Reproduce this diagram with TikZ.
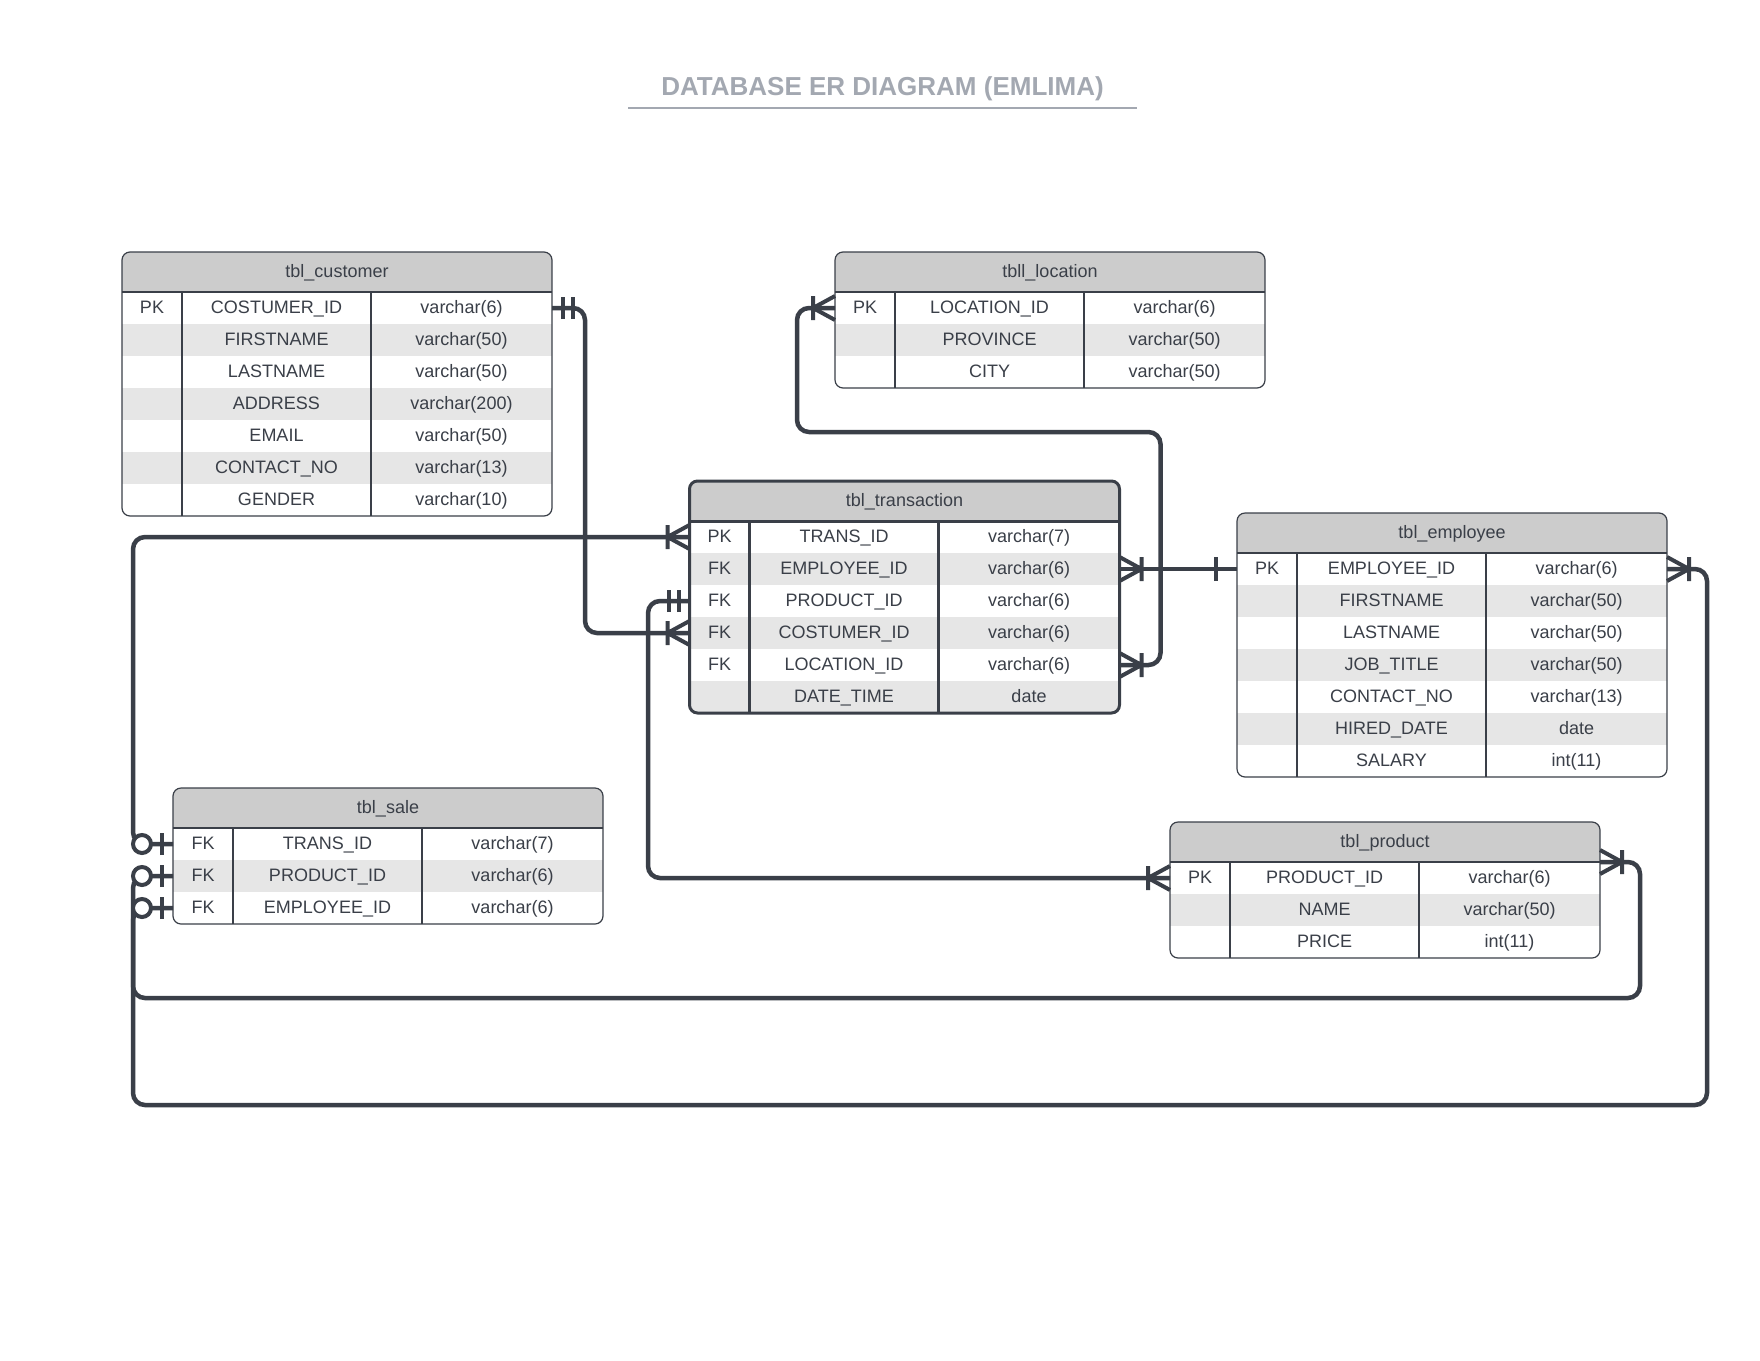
\documentclass[tikz,border=0pt]{standalone}
\usepackage{fontspec}
\setmainfont{Liberation Sans}

\definecolor{ink}{HTML}{3A3F48}
\definecolor{headgray}{HTML}{CCCCCC}
\definecolor{rowgray}{HTML}{E6E6E6}
\definecolor{titlegray}{HTML}{A3A8B1}

\tikzset{
  celltext/.style={font=\fontsize{9}{11}\selectfont, text=ink, inner sep=0pt,
    text height=6.5pt, text depth=1.5pt},
  rowbox/.style={minimum width=215pt, minimum height=16pt, inner sep=0pt, outer sep=0pt},
  tblline/.style={draw=ink, line width=0.6pt},
  tblbold/.style={draw=ink, line width=1.5pt},
  rel/.style={draw=ink, line width=2.25pt, rounded corners=6pt},
  relmark/.style={draw=ink, line width=2pt},
  crowmany/.pic={\draw[relmark] (0,12) -- (22,0) -- (0,-12) (22,12) -- (22,-12);},
  onlyone/.pic={\draw[relmark] (11,11) -- (11,-11) (21,11) -- (21,-11);},
  justone/.pic={\draw[relmark] (21,12) -- (21,-12);},
  zeroone/.pic={\draw[relmark] (11,11) -- (11,-11);
    \draw[relmark, fill=white] (31,0) circle[radius=4.5pt];},
}

% table: [border style]{name}{left}{top}{title}{rows}{key/field/type,...}
\newcommand{\ertable}[7][tblline]{%
  \begin{scope}
    \clip[rounded corners=4pt] (#3,#4) rectangle ++(430,40+32*#6);
    \fill[headgray] (#3,#4) rectangle ++(430,40);
    \foreach[count=\i] \fkey/\fname/\ftype in {#7}{
      \ifodd\i\def\rowfill{white}\else\def\rowfill{rowgray}\fi
      \node[rowbox, fill=\rowfill] (#2-\i) at (#3+215,#4+24+32*\i) {};
      \node[celltext] (#2-\i-key) at (#3+30,#4+24+32*\i) {\fkey};
      \node[celltext] (#2-\i-name) at (#3+154.5,#4+24+32*\i) {\fname};
      \node[celltext] (#2-\i-type) at (#3+339.5,#4+24+32*\i) {\ftype};
    }
  \end{scope}
  \node[celltext] (#2) at (#3+215,#4+20) {#5};
  \draw[#1] (#3,#4+40) -- ++(430,0)
    (#3+60,#4+40) -- ++(0,32*#6) (#3+249,#4+40) -- ++(0,32*#6);
  \draw[#1, rounded corners=4pt] (#3,#4) rectangle ++(430,40+32*#6);
}

\begin{document}
\begin{tikzpicture}[x=0.5pt, y=-0.5pt]
  \useasboundingbox (0,0) rectangle (1760,1360);

  % title
  \node[font=\bfseries\fontsize{13}{15}\selectfont, text=titlegray, inner sep=0pt]
    (title) at (882.5,89) {DATABASE ER DIAGRAM (EMLIMA)};
  \draw[titlegray, line width=1pt] (628,108) -- (1137,108);

  % tables
  \ertable{cust}{122}{252}{tbl\_customer}{7}{PK/COSTUMER\_ID/varchar(6),
    /FIRSTNAME/varchar(50), /LASTNAME/varchar(50), /ADDRESS/varchar(200),
    /EMAIL/varchar(50), /CONTACT\_NO/varchar(13), /GENDER/varchar(10)}
  \ertable{loc}{835}{252}{tbll\_location}{3}{PK/LOCATION\_ID/varchar(6),
    /PROVINCE/varchar(50), /CITY/varchar(50)}
  \ertable[tblbold]{trans}{689.5}{481}{tbl\_transaction}{6}{PK/TRANS\_ID/varchar(7),
    FK/EMPLOYEE\_ID/varchar(6), FK/PRODUCT\_ID/varchar(6), FK/COSTUMER\_ID/varchar(6),
    FK/LOCATION\_ID/varchar(6), /DATE\_TIME/date}
  \ertable{emp}{1237}{513}{tbl\_employee}{7}{PK/EMPLOYEE\_ID/varchar(6),
    /FIRSTNAME/varchar(50), /LASTNAME/varchar(50), /JOB\_TITLE/varchar(50),
    /CONTACT\_NO/varchar(13), /HIRED\_DATE/date, /SALARY/int(11)}
  \ertable{sale}{173}{788}{tbl\_sale}{3}{FK/TRANS\_ID/varchar(7),
    FK/PRODUCT\_ID/varchar(6), FK/EMPLOYEE\_ID/varchar(6)}
  \ertable{prod}{1170}{822}{tbl\_product}{3}{PK/PRODUCT\_ID/varchar(6),
    /NAME/varchar(50), /PRICE/int(11)}

  % relations
  \draw[rel] (cust-1.east) -- ++(33,0) |- (trans-4.west);
  \draw[rel] (sale-1.west) -- ++(-40,0) |- (trans-1.west);
  \draw[rel] (sale-2.west) -- ++(-40,0) |- (1640,998) |- (prod-1.north east);
  \draw[rel] (sale-3.west) -- ++(-40,0) |- (1707,1105) |- (emp-1.east);
  \draw[rel] (prod-1.west) -- ++(-522,0) |- (trans-3.west);
  \draw[rel] (trans-2.east) -- (emp-1.west);
  \draw[rel] (trans-5.east) -- ++(41,0) |- (797,432) |- (loc-1.west);

  % ends
  \pic at (cust-1.east) {onlyone};
  \pic[xscale=-1] at (trans-4.west) {crowmany};
  \pic[xscale=-1] at (trans-1.west) {crowmany};
  \pic[xscale=-1] at (trans-3.west) {onlyone};
  \pic[xscale=-1] at (sale-1.west) {zeroone};
  \pic[xscale=-1] at (sale-2.west) {zeroone};
  \pic[xscale=-1] at (sale-3.west) {zeroone};
  \pic[xscale=-1] at (prod-1.west) {crowmany};
  \pic at (prod-1.north east) {crowmany};
  \pic at (emp-1.east) {crowmany};
  \pic at (trans-2.east) {crowmany};
  \pic[xscale=-1] at (emp-1.west) {justone};
  \pic at (trans-5.east) {crowmany};
  \pic[xscale=-1] at (loc-1.west) {crowmany};
\end{tikzpicture}
\end{document}
